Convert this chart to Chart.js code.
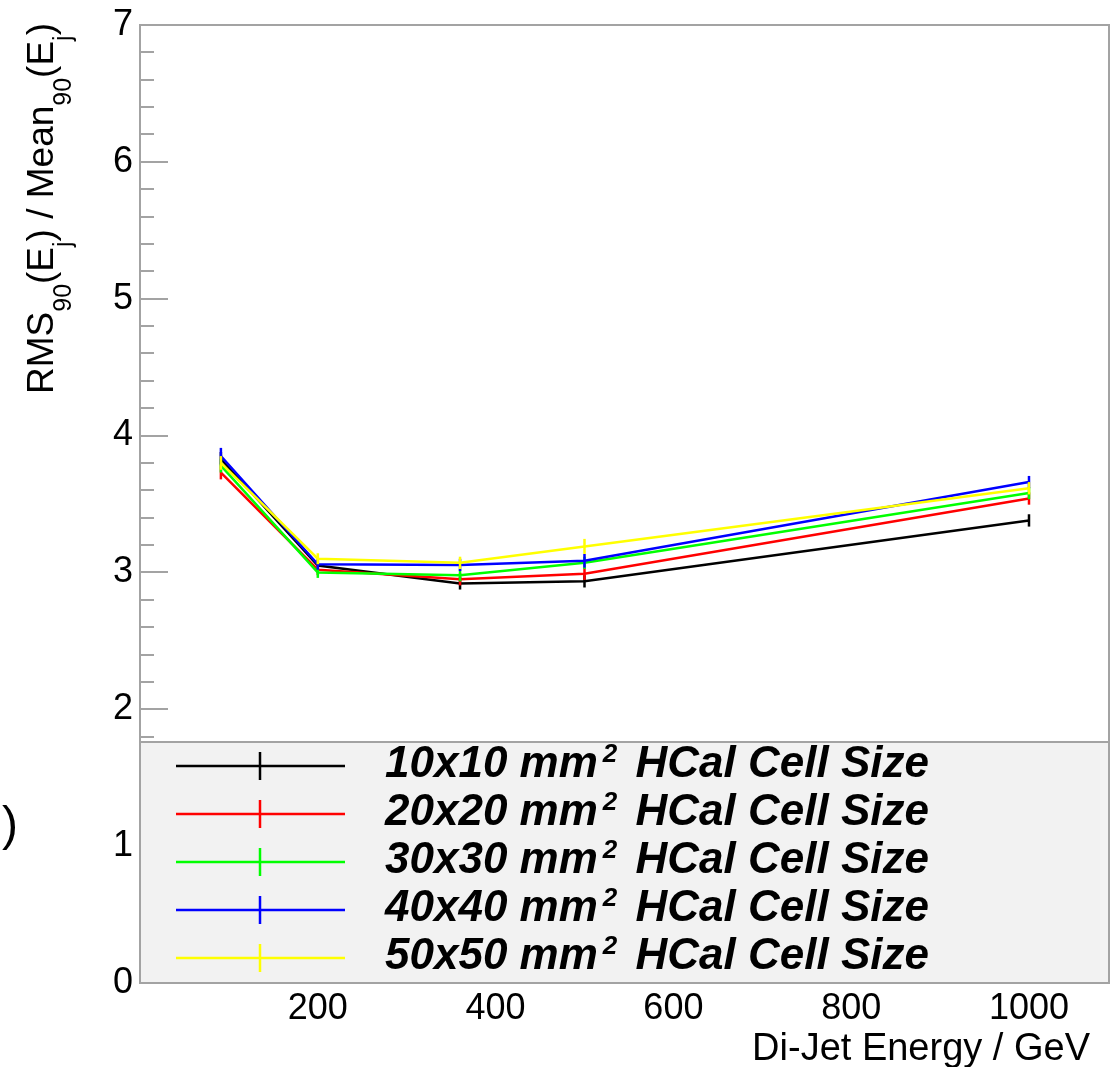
<!DOCTYPE html>
<html><head><meta charset="utf-8">
<style>html,body{margin:0;padding:0;background:#fff;}#wrap{width:1116px;height:1067px;}</style>
<script src="https://cdn.jsdelivr.net/npm/chart.js@4/dist/chart.umd.min.js"></script>
</head><body><div id="wrap"><canvas id="c" width="1116" height="1067"></canvas></div>
<script>
// ---- data ----
const energies = [91, 200, 360, 500, 1000];
const cellSizes = ['10x10', '20x20', '30x30', '40x40', '50x50'];
const seriesLabels = ['10x10 mm² HCal Cell Size', '20x20 mm² HCal Cell Size', '30x30 mm² HCal Cell Size', '40x40 mm² HCal Cell Size', '50x50 mm² HCal Cell Size'];
const res10 = [3.83, 3.05, 2.92, 2.935, 3.38];
const res20 = [3.73, 3.02, 2.95, 2.99, 3.54];
const res30 = [3.78, 3.00, 2.98, 3.07, 3.58];
const res40 = [3.85, 3.06, 3.055, 3.085, 3.66];
const res50 = [3.80, 3.10, 3.07, 3.19, 3.615];
const err10 = [0.05, 0.04, 0.045, 0.045, 0.045];
const err20 = [0.05, 0.04, 0.045, 0.045, 0.045];
const err30 = [0.05, 0.04, 0.045, 0.045, 0.045];
const err40 = [0.06, 0.04, 0.045, 0.05, 0.045];
const err50 = [0.05, 0.04, 0.045, 0.055, 0.045];
const xTickValues = [200, 400, 600, 800, 1000];
const yTickValues = [0, 1, 2, 3, 4, 5, 6, 7];
const colors = ['#000000', '#ff0000', '#00ff00', '#0000ff', '#ffff00'];

const series = [res10, res20, res30, res40, res50];
const errors = [err10, err20, err30, err40, err50];
const yTitleParts = [['RMS',0],['90',1],['(E',0],['j',1],[') / Mean',0],['90',1],['(E',0],['j',1],[')',0]];
const xTitle = 'Di-Jet Energy / GeV';

const FONT = '"Liberation Sans", Arial, Helvetica, sans-serif';
const frameColor = '#a3a3a3';

const rootPlugin = {
  id: 'rootStyle',
  afterDatasetDraw(chart, args) {
    const i = args.index;
    const c = chart.ctx, xs = chart.scales.x, ys = chart.scales.y;
    c.save();
    c.strokeStyle = colors[i]; c.lineWidth = 2.5;
    errors[i].forEach((e, j) => {
      const px = xs.getPixelForValue(energies[j]);
      c.beginPath();
      c.moveTo(px, ys.getPixelForValue(series[i][j] - e));
      c.lineTo(px, ys.getPixelForValue(series[i][j] + e));
      c.stroke();
    });
    c.restore();
  },
  afterDatasetsDraw(chart) {
    const c = chart.ctx, a = chart.chartArea, ys = chart.scales.y;
    c.save();
    c.strokeStyle = frameColor; c.lineWidth = 2;
    // y ticks (major + minor, inside)
    for (let k = 0; k <= 35; k++) {
      const py = Math.round(ys.getPixelForValue(k * 0.2));
      const len = (k % 5 === 0) ? 28 : 14;
      c.beginPath(); c.moveTo(a.left, py); c.lineTo(a.left + len, py); c.stroke();
    }
    // frame
    c.strokeRect(a.left, a.top, a.right - a.left, a.bottom - a.top);
    // legend box
    const boxTop = 742;
    c.fillStyle = '#f2f2f2';
    c.fillRect(a.left, boxTop, a.right - a.left, a.bottom - boxTop);
    c.strokeRect(a.left, boxTop, a.right - a.left, a.bottom - boxTop);
    // legend entries
    const rowH = 48, firstRow = 766;
    chart.data.datasets.forEach((ds, i) => {
      const cy = firstRow + i * rowH;
      c.strokeStyle = ds.borderColor; c.lineWidth = 2.5;
      c.beginPath(); c.moveTo(176, cy); c.lineTo(345, cy); c.stroke();
      c.beginPath(); c.moveTo(260, cy - 14); c.lineTo(260, cy + 14); c.stroke();
      const parts = ds.label.split('²');
      c.fillStyle = '#000'; c.textBaseline = 'alphabetic'; c.textAlign = 'left';
      let x = 385;
      c.font = 'italic bold 44px ' + FONT;
      c.fillText(parts[0], x, cy + 11);
      x += c.measureText(parts[0]).width + 5;
      c.font = 'italic bold 26px ' + FONT;
      c.fillText('2', x, cy - 4);
      x += c.measureText('2').width + 6;
      c.font = 'italic bold 44px ' + FONT;
      c.fillText(parts[1], x, cy + 11);
    });
    c.restore();
  },
  afterDraw(chart) {
    const c = chart.ctx, a = chart.chartArea;
    c.save();
    c.fillStyle = '#000';
    // y title (rotated, right-aligned at top)
    const mainF = 'normal 37px ' + FONT, subF = 'normal 25px ' + FONT;
    let W = 0;
    yTitleParts.forEach(([t, s]) => { c.font = s ? subF : mainF; W += c.measureText(t).width; });
    c.translate(53, 23);
    c.rotate(-Math.PI / 2);
    c.textAlign = 'left'; c.textBaseline = 'alphabetic';
    let u = -W;
    yTitleParts.forEach(([t, s]) => {
      c.font = s ? subF : mainF;
      c.fillText(t, u, s ? 18 : 0);
      u += c.measureText(t).width;
    });
    c.setTransform(1, 0, 0, 1, 0, 0);
    // x title
    c.font = 'normal 38px ' + FONT;
    c.textAlign = 'right';
    c.fillText(xTitle, 1090, 1060);
    // stray bracket at left
    c.font = 'normal 48px ' + FONT;
    c.textAlign = 'left';
    c.fillText(')', 2, 840);
    c.restore();
  }
};

new Chart(document.getElementById('c').getContext('2d'), {
  type: 'line',
  data: {
    datasets: series.map((s, i) => ({
      label: seriesLabels[i],
      data: energies.map((e, j) => ({ x: e, y: s[j] })),
      borderColor: colors[i],
      backgroundColor: colors[i],
      borderWidth: 2.5,
      pointRadius: 0,
      tension: 0,
      fill: false,
      order: series.length - i
    }))
  },
  options: {
    responsive: false,
    animation: false,
    devicePixelRatio: 1,
    layout: { padding: { left: 0, right: 7, top: 23, bottom: 0 } },
    plugins: { legend: { display: false }, tooltip: { enabled: false } },
    scales: {
      x: {
        type: 'linear', min: 0, max: 1090,
        afterBuildTicks: s => { s.ticks = xTickValues.map(v => ({ value: v })); },
        afterFit: s => { s.height = 84; },
        grid: { display: false, drawTicks: false },
        border: { display: false },
        ticks: { font: { family: FONT, size: 36, lineHeight: 1 }, color: '#000', padding: 8, maxRotation: 0, autoSkip: false,
                 callback: v => String(v) }
      },
      y: {
        type: 'linear', min: 0, max: 7,
        afterBuildTicks: s => { s.ticks = yTickValues.map(v => ({ value: v })); },
        afterFit: s => { s.width = 140; },
        grid: { display: false, drawTicks: false },
        border: { display: false },
        ticks: { font: { family: FONT, size: 36, lineHeight: 1 }, color: '#000', padding: 7, autoSkip: false,
                 callback: v => String(v) }
      }
    }
  },
  plugins: [rootPlugin]
});
</script>
</body></html>
